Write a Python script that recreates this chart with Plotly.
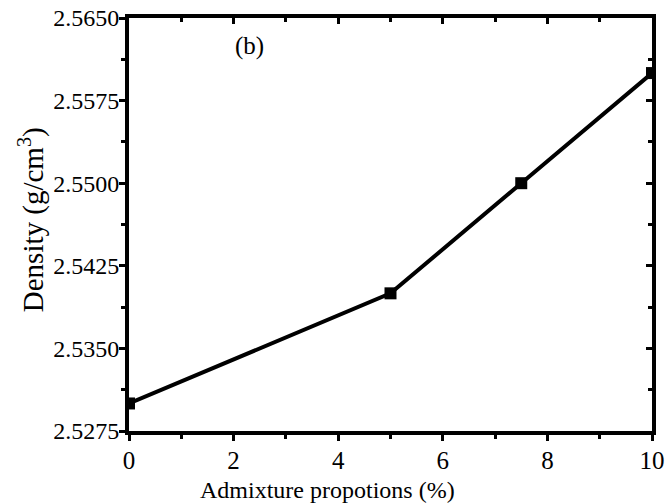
import plotly.graph_objects as go

x_vals = [0, 5, 7.5, 10]
density = [2.530, 2.540, 2.550, 2.560]
y_ticks = [2.5275, 2.5350, 2.5425, 2.5500, 2.5575, 2.5650]
y_ticklabels = ["2.5275", "2.5350", "2.5425", "2.5500", "2.5575", "2.5650"]
x_ticks = [0, 2, 4, 6, 8, 10]

font = "Liberation Serif"

fig = go.Figure()
fig.add_trace(go.Scatter(
    x=x_vals, y=density, mode="lines+markers",
    line=dict(color="black", width=4),
    marker=dict(symbol="square", size=12, color="black"),
    showlegend=False,
))
# invisible trace for the mirrored (inside-tick) axes
fig.add_trace(go.Scatter(x=x_vals, y=density, xaxis="x2", yaxis="y2",
                         mode="markers", marker=dict(opacity=0),
                         showlegend=False, hoverinfo="skip"))

axis_common = dict(showgrid=False, zeroline=False, linecolor="black", linewidth=4,
                   tickcolor="black", tickwidth=3, ticklen=6, automargin=False)

fig.update_layout(
    template="none",
    width=665, height=503,
    margin=dict(l=129, r=13, t=18, b=72),
    plot_bgcolor="white", paper_bgcolor="white",
    font=dict(family=font, color="black"),
    xaxis=dict(range=[0, 10], tickvals=x_ticks, ticks="outside",
               tickfont=dict(size=25, family=font), showline=True, ticklabelstandoff=-2,
               minor=dict(dtick=1, tick0=0, ticks="outside", ticklen=4, tickwidth=3, tickcolor="black"),
               **axis_common),
    yaxis=dict(range=[2.5275, 2.5650], tickvals=y_ticks, ticktext=y_ticklabels,
               ticks="outside", tickfont=dict(size=24, family=font), showline=True,
               ticklabelstandoff=-5,
               minor=dict(dtick=0.00375, tick0=2.5275, ticks="outside", ticklen=4, tickwidth=3, tickcolor="black"),
               **axis_common),
    xaxis2=dict(range=[0, 10], overlaying="x", side="top", tickvals=x_ticks,
                ticks="inside", showticklabels=False, showline=True,
                minor=dict(dtick=1, tick0=0, ticks="inside", ticklen=4, tickwidth=3, tickcolor="black"),
                **axis_common),
    yaxis2=dict(range=[2.5275, 2.5650], overlaying="y", side="right", tickvals=y_ticks,
                ticks="inside", showticklabels=False, showline=True,
                minor=dict(dtick=0.00375, tick0=2.5275, ticks="inside", ticklen=4, tickwidth=3, tickcolor="black"),
                **axis_common),
    annotations=[
        dict(text="(b)", x=2.3, y=2.5625, xref="x", yref="y",
             showarrow=False, font=dict(size=25, family=font)),
        dict(text="Admixture propotions (%)", x=0.38, y=-0.143, xref="paper", yref="paper",
             xanchor="center", yanchor="middle", showarrow=False,
             font=dict(size=24, family=font)),
        dict(text="Density (g/cm<sup>3</sup>)", x=-0.185, y=0.511, xref="paper", yref="paper",
             xanchor="center", yanchor="middle", textangle=-90, showarrow=False,
             font=dict(size=29, family=font)),
    ],
)

fig.write_html("out.html")
